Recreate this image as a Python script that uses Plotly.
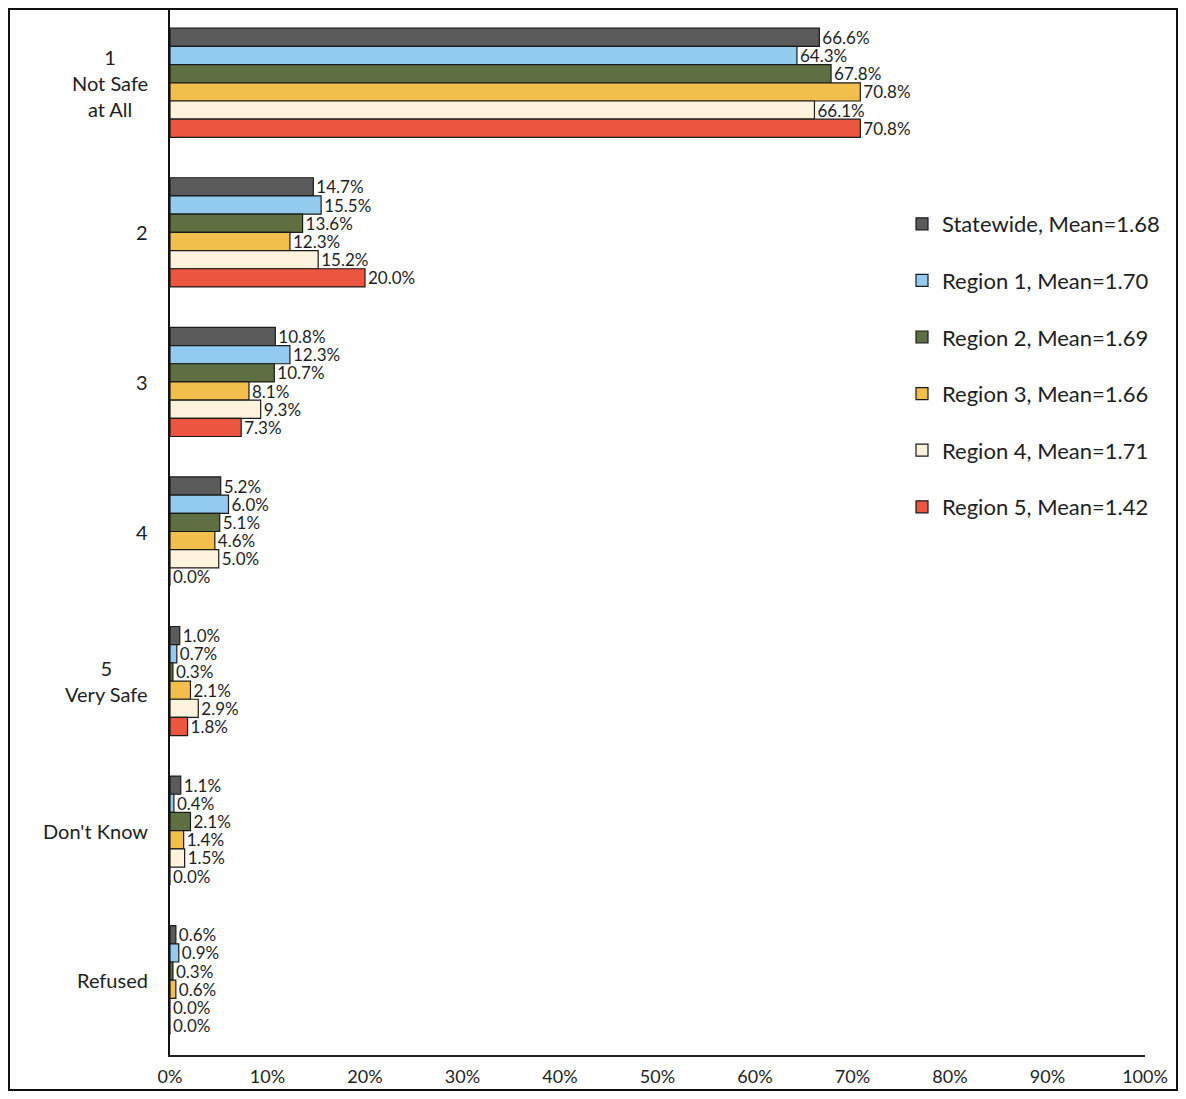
import plotly.graph_objects as go

categories = ["1<br>Not Safe<br>at All", "2", "3", "4", "5<br>Very Safe", "Don't Know", "Refused"]
series_names = ["Statewide, Mean=1.68", "Region 1, Mean=1.70", "Region 2, Mean=1.69",
                "Region 3, Mean=1.66", "Region 4, Mean=1.71", "Region 5, Mean=1.42"]
statewide = [66.6, 14.7, 10.8, 5.2, 1.0, 1.1, 0.6]
region1 = [64.3, 15.5, 12.3, 6.0, 0.7, 0.4, 0.9]
region2 = [67.8, 13.6, 10.7, 5.1, 0.3, 2.1, 0.3]
region3 = [70.8, 12.3, 8.1, 4.6, 2.1, 1.4, 0.6]
region4 = [66.1, 15.2, 9.3, 5.0, 2.9, 1.5, 0.0]
region5 = [70.8, 20.0, 7.3, 0.0, 1.8, 0.0, 0.0]
x_ticks = [0, 10, 20, 30, 40, 50, 60, 70, 80, 90, 100]

series_values = [statewide, region1, region2, region3, region4, region5]
colors = ["#5b5b5b", "#93cbef", "#5e6f42", "#f2bf4c", "#fdf2dc", "#ec5640"]

# page body has an 8px margin; figure coordinates = screen - 8
OFF = 8
W, H = 1186 - 2 * OFF, 1099 - 2 * OFF
ML = 170 - OFF
MT = 8 - OFF
PR = 1145 - OFF
PB = 1055 - OFF
MR = W - PR
MB = H - PB
PW = W - ML - MR
PH = H - MT - MB

FONT = "Lato"
TXT = "#1e1e1e"

fig = go.Figure()
for i, (name, vals) in enumerate(zip(series_names, series_values)):
    fig.add_trace(go.Bar(
        y=categories, x=vals, orientation="h", name=name,
        marker=dict(color=colors[i], line=dict(color="#1a1a1a", width=1.2)),
        text=[f"{v:.1f}%" for v in vals], textposition="outside",
        constraintext="none",
        textfont=dict(family=FONT, size=17, color=TXT),
        cliponaxis=False, legendgroup=f"g{i}", hoverinfo="skip",
    ))

annotations = []
for idx, c in enumerate(categories):
    annotations.append(dict(
        x=(150 - OFF - ML) / PW, xref="paper", y=idx, yref="y", text=c,
        xanchor="right", yanchor="middle", align="center", showarrow=False,
        font=dict(family=FONT, size=20, color=TXT),
    ))

fig.update_layout(
    width=W, height=H,
    margin=dict(l=ML, r=MR, t=MT, b=MB, autoexpand=False),
    paper_bgcolor="white", plot_bgcolor="white",
    barmode="group", bargap=0.27, bargroupgap=0,
    showlegend=True,
    legend=dict(
        x=(902 - OFF - ML) / PW, y=1 - (203 - OFF - MT) / PH, xanchor="left", yanchor="top",
        font=dict(family=FONT, size=22, color=TXT),
        tracegroupgap=25, traceorder="grouped", bgcolor="rgba(0,0,0,0)",
        itemclick=False,
    ),
    xaxis=dict(
        range=[0, 100], tickvals=x_ticks, ticktext=[f"{t}%" for t in x_ticks],
        showgrid=False, zeroline=False, showline=True, linecolor="#222", linewidth=1.5,
        ticks="outside", ticklen=5, tickcolor="rgba(0,0,0,0)", automargin=False,
        tickfont=dict(family=FONT, size=18, color=TXT),
    ),
    yaxis=dict(
        autorange="reversed", showticklabels=False, showgrid=False, zeroline=False,
        showline=True, linecolor="#111", linewidth=2, ticks="", automargin=False,
    ),
    annotations=annotations,
    shapes=[dict(
        type="rect", xref="paper", yref="paper",
        x0=(1 - ML) / PW, x1=(W - 1 - ML) / PW,
        y0=1 - (H - 1 - MT) / PH, y1=1 - (1 - MT) / PH,
        line=dict(color="#111", width=2), fillcolor="rgba(0,0,0,0)", layer="above",
    )],
)

fig.write_html("out.html")
